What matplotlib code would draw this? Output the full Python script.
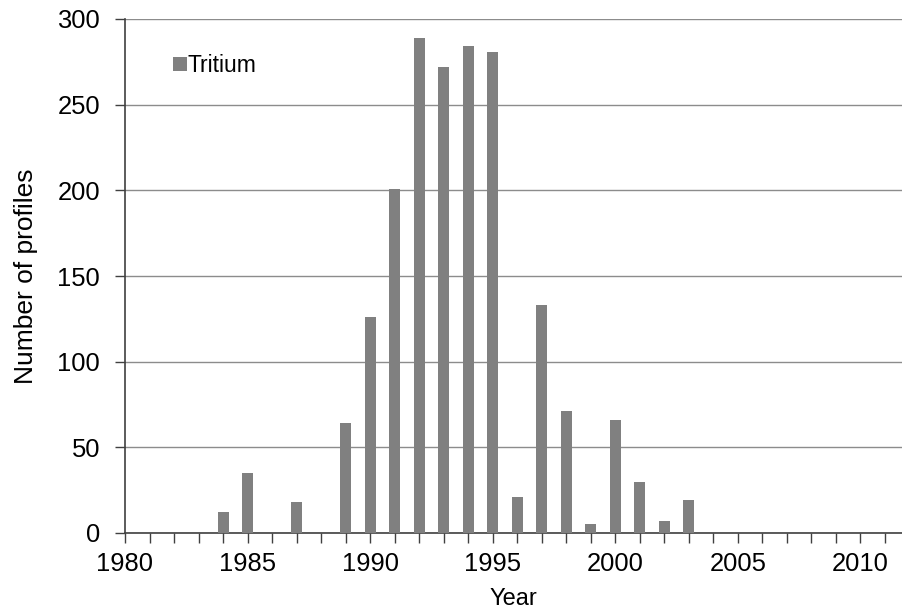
import matplotlib.pyplot as plt
from matplotlib.ticker import MultipleLocator

plt.rcParams['font.family'] = ['Liberation Sans', 'DejaVu Sans']

# Number of tritium profiles per year
years = list(range(1980, 2012))
counts = [0, 0, 0, 0, 12, 35, 0, 18, 0, 64,
          126, 201, 289, 272, 284, 281, 21, 133, 71, 5,
          66, 30, 7, 19, 0, 0, 0, 0, 0, 0,
          0, 0]

fig = plt.figure(figsize=(9.02, 6.10), dpi=100)
ax = fig.add_axes([125 / 902, 1 - 533 / 610, 1 - 125 / 902, (533 - 19) / 610])

ax.bar(years, counts, width=0.45, color='#808080', label='Tritium', zorder=3)

ax.set_xlim(1980, 2011.7)
ax.set_ylim(0, 300)
ax.xaxis.set_major_locator(MultipleLocator(5))
ax.xaxis.set_minor_locator(MultipleLocator(1))
ax.yaxis.set_major_locator(MultipleLocator(50))
ax.grid(axis='y', color='#8c8c8c', linewidth=1.0, zorder=0)

for side in ['top', 'right']:
    ax.spines[side].set_visible(False)
ax.spines['left'].set_color('#404040')
ax.spines['bottom'].set_color('#404040')
ax.spines['left'].set_linewidth(1.2)
ax.spines['bottom'].set_linewidth(1.2)
ax.tick_params(axis='both', which='both', direction='out', length=7,
               width=1.0, color='#404040', labelsize=18.4)
ax.tick_params(axis='x', pad=7)
ax.tick_params(axis='y', pad=11)

ax.set_xlabel('Year', fontsize=17, labelpad=8)
ax.set_ylabel('Number of profiles', fontsize=19, labelpad=14)

ax.legend(loc='upper left', bbox_to_anchor=(0.05, 0.95), frameon=False,
          fontsize=16.5, handlelength=0.6, handleheight=0.6, handletextpad=0.05,
          borderaxespad=0)

fig.savefig('out.png', dpi=100)
